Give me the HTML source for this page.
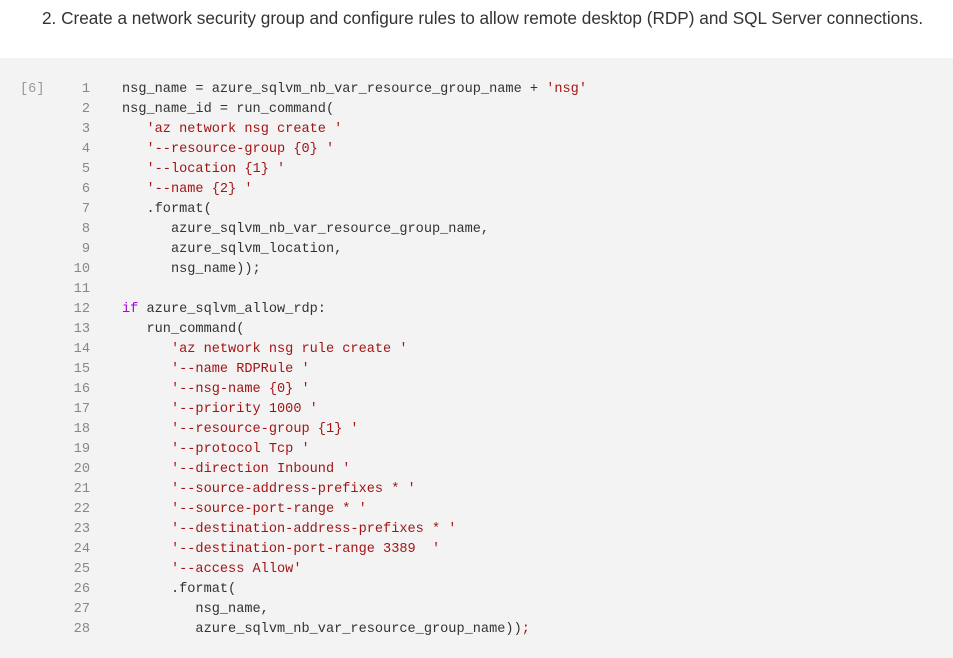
<!DOCTYPE html>
<html><head><style>
body{margin:0;width:953px;height:641px;overflow:hidden;background:#fff;font-family:"Liberation Sans",sans-serif;}
.t{position:absolute;left:42px;top:8px;font-size:17.2px;color:#333;white-space:nowrap;}
.code{position:absolute;left:0;top:58px;width:953px;height:600px;background:#f3f3f4;}
.ex{position:absolute;left:20px;top:24px;font-family:"Liberation Mono",monospace;font-size:13.6px;color:#999;}
.ln{position:absolute;left:50px;width:40px;text-align:right;font-family:"Liberation Mono",monospace;font-size:13.6px;color:#888;}
.c{position:absolute;left:122px;font-family:"Liberation Mono",monospace;font-size:13.6px;color:#333;white-space:pre;}
.s{color:#a31515}.k{color:#af00db}
</style></head><body>
<div class="t">2. Create a network security group and configure rules to allow remote desktop (RDP) and SQL Server connections.</div>
<div class="code">
<div class="ex">[6]</div>
<div id="w"></div>
</div>
<script>
var L=[
"nsg_name = azure_sqlvm_nb_var_resource_group_name + <span class=s>'nsg'</span>",
"nsg_name_id = run_command(",
"   <span class=s>'az network nsg create '</span>",
"   <span class=s>'--resource-group {0} '</span>",
"   <span class=s>'--location {1} '</span>",
"   <span class=s>'--name {2} '</span>",
"   .format(",
"      azure_sqlvm_nb_var_resource_group_name,",
"      azure_sqlvm_location,",
"      nsg_name));",
"",
"<span class=k>if</span> azure_sqlvm_allow_rdp:",
"   run_command(",
"      <span class=s>'az network nsg rule create '</span>",
"      <span class=s>'--name RDPRule '</span>",
"      <span class=s>'--nsg-name {0} '</span>",
"      <span class=s>'--priority 1000 '</span>",
"      <span class=s>'--resource-group {1} '</span>",
"      <span class=s>'--protocol Tcp '</span>",
"      <span class=s>'--direction Inbound '</span>",
"      <span class=s>'--source-address-prefixes * '</span>",
"      <span class=s>'--source-port-range * '</span>",
"      <span class=s>'--destination-address-prefixes * '</span>",
"      <span class=s>'--destination-port-range 3389  '</span>",
"      <span class=s>'--access Allow'</span>",
"      .format(",
"         nsg_name,",
"         azure_sqlvm_nb_var_resource_group_name))<span class=s>;</span>"];
var h="";
for(var i=0;i<L.length;i++){var y=24+i*20;
h+='<div class="ln" style="top:'+y+'px">'+(i+1)+'</div><div class="c" style="top:'+y+'px">'+L[i]+'</div>';}
document.getElementById('w').innerHTML=h;
</script>
</body></html>
